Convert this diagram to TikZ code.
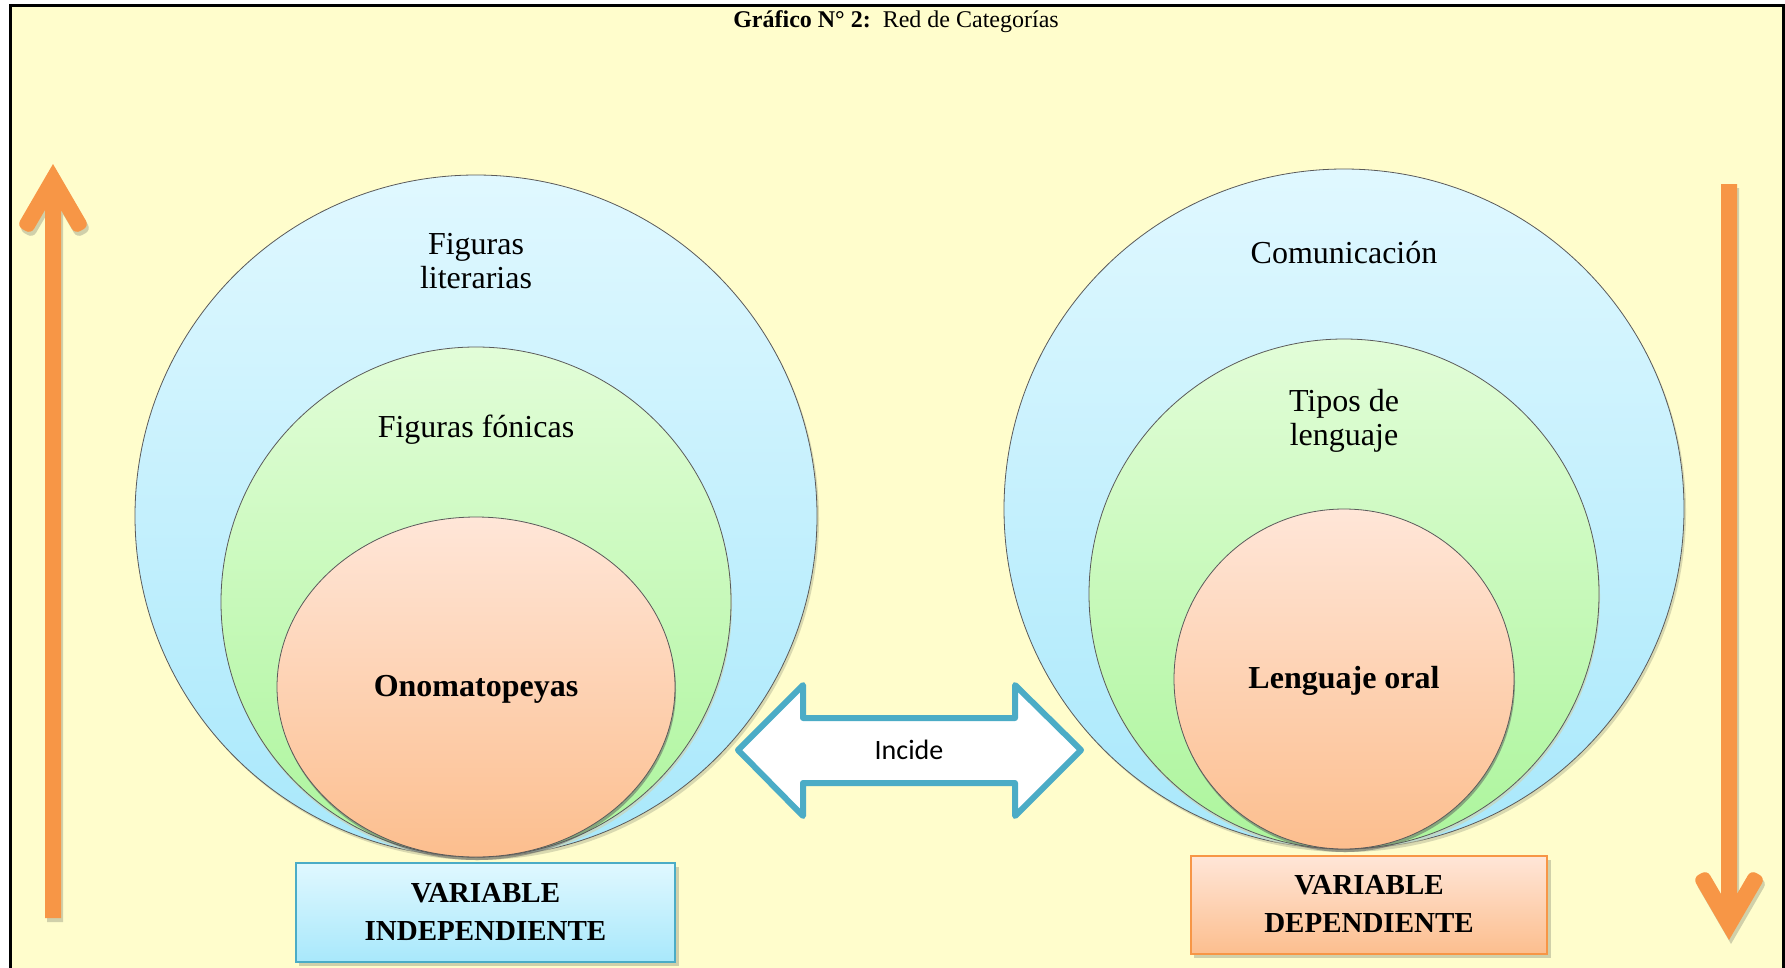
\documentclass[tikz,border=0pt]{standalone}
\usepackage{fontspec}
\setmainfont{Liberation Serif}
\newfontfamily\calibri{Carlito}
\usetikzlibrary{positioning}

\definecolor{fondo}{RGB}{255,253,204}
\definecolor{naranja}{RGB}{247,150,70}
\definecolor{sombra}{RGB}{208,208,170}
\definecolor{azulborde}{RGB}{75,172,198}
\definecolor{azularriba}{RGB}{224,248,255}
\definecolor{azulabajo}{RGB}{168,232,251}
\definecolor{verdearriba}{RGB}{226,253,216}
\definecolor{verdeabajo}{RGB}{172,245,156}
\definecolor{naranjaarriba}{RGB}{255,230,216}
\definecolor{naranjaabajo}{RGB}{252,190,142}
\definecolor{contorno}{RGB}{90,90,90}

\tikzset{
    circulo/.style={draw=contorno, line width=0.8},
    azul/.style={top color=azularriba, bottom color=azulabajo},
    verde/.style={top color=verdearriba, bottom color=verdeabajo},
    durazno/.style={top color=naranjaarriba, bottom color=naranjaabajo},
    etiqueta/.style={font=\fontsize{32}{34}\selectfont, align=center, inner sep=0},
    caja/.style={line width=2.5, align=center, font=\fontsize{29}{38}\selectfont\bfseries},
}

\begin{document}
\begin{tikzpicture}[x=1pt, y=-1pt]
    \useasboundingbox (0,0) rectangle (1785,967);
    \fill[white] (0,0) rectangle (1785,967);
    \fill[fondo] (10,5) rectangle (1783,975);
    \draw[line width=3] (10,975) -- (10,5) -- (1783,5) -- (1783,975);

    \node (titulo) at (896,22) [font=\fontsize{24}{26}\selectfont]
        {\textbf{Gráfico N° 2:}\enspace Red de Categorías};

    % flechas laterales
    \fill[sombra] (55,168) [rounded corners=6] -- (91,230) -- (77,238) [sharp corners] -- (63,214) -- (63,922) -- (47,922) -- (47,214) [rounded corners=6] -- (33,238) -- (19,230) [sharp corners] -- cycle;
    \fill[naranja] (53,164) [rounded corners=6] -- (89,226) -- (75,234) [sharp corners] -- (61,210) -- (61,918) -- (45,918) -- (45,210) [rounded corners=6] -- (31,234) -- (17,226) [sharp corners] -- cycle;
    \fill[sombra] (1731,944) [rounded corners=6] -- (1767,882) -- (1753,874) [sharp corners] -- (1739,898) -- (1739,188) -- (1723,188) -- (1723,898) [rounded corners=6] -- (1709,874) -- (1695,882) [sharp corners] -- cycle;
    \fill[naranja] (1729,940) [rounded corners=6] -- (1765,878) -- (1751,870) [sharp corners] -- (1737,894) -- (1737,184) -- (1721,184) -- (1721,894) [rounded corners=6] -- (1707,870) -- (1693,878) [sharp corners] -- cycle;

    % circulos
    \fill[sombra, opacity=.8] (478,519) circle[radius=341pt];
    \shade[circulo, azul] (476,516) circle[radius=341pt];
    \fill[sombra, opacity=.6] (477,605) circle[radius=255pt];
    \shade[circulo, verde] (476,602) circle[radius=255pt];
    \fill[contorno, opacity=.5] (477,690) ellipse[x radius=199pt, y radius=170pt];
    \shade[circulo, durazno] (476,687) ellipse[x radius=199pt, y radius=170pt];

    \fill[sombra, opacity=.8] (1346,512) circle[radius=340pt];
    \shade[circulo, azul] (1344,509) circle[radius=340pt];
    \fill[sombra, opacity=.6] (1345,597) circle[radius=255pt];
    \shade[circulo, verde] (1344,594) circle[radius=255pt];
    \fill[contorno, opacity=.5] (1345,682) circle[radius=170pt];
    \shade[circulo, durazno] (1344,679) circle[radius=170pt];

    \node (figlit) at (476,261) [etiqueta] {Figuras\\literarias};
    \node (figfon) at (476,430) [etiqueta] {Figuras fónicas};
    \node (onomat) at (476,689) [etiqueta, font=\fontsize{32}{34}\selectfont\bfseries] {Onomatopeyas};
    \node (comunic) at (1344,253) [etiqueta] {Comunicación};
    \node (tipos) at (1344,421) [etiqueta] {Tipos de\\lenguaje};
    \node (lengoral) at (1344,681) [etiqueta, font=\fontsize{32}{34}\selectfont\bfseries] {Lenguaje oral};

    % flecha doble
    \filldraw[draw=azulborde, fill=white, line width=6, line join=round]
        (738,750) -- (803,685) -- (803,718) -- (1015,718) -- (1015,685) -- (1081,750)
        -- (1015,816) -- (1015,783) -- (803,783) -- (803,816) -- cycle;
    \node (incide) at (909,750) [font=\calibri\fontsize{28}{30}\selectfont] {Incide};

    % variables
    \fill[sombra] (299,867) rectangle (679,966);
    \node (varind) at (485.5,912.5) [caja, draw=azulborde, azul,
        minimum width=379pt, minimum height=99pt] {\raisebox{2pt}{VARIABLE}\\\raisebox{2pt}{INDEPENDIENTE}};
    \fill[sombra] (1194,860) rectangle (1551,958);
    \node (vardep) at (1369,905) [caja, draw=naranja, durazno,
        minimum width=356pt, minimum height=98pt] {\raisebox{2pt}{VARIABLE}\\\raisebox{2pt}{DEPENDIENTE}};
\end{tikzpicture}
\end{document}
